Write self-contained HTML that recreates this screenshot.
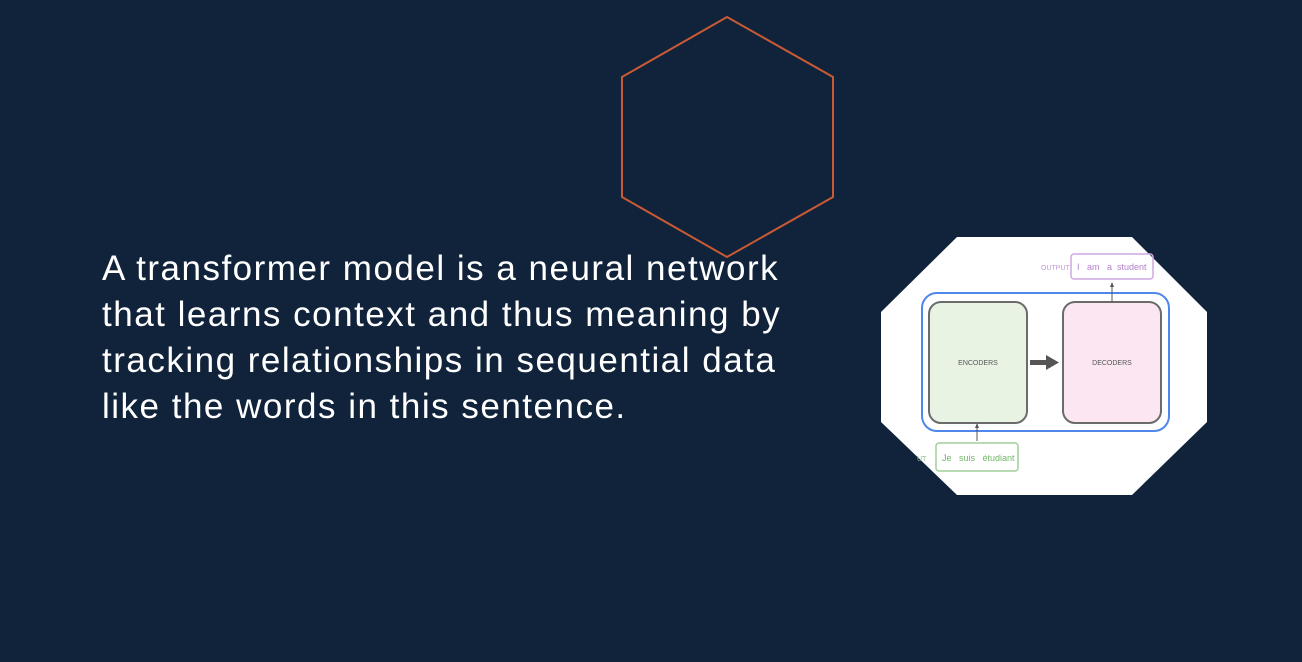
<!DOCTYPE html>
<html><head><meta charset="utf-8"><style>
html,body{margin:0;padding:0;}
body{width:1302px;height:662px;background:#10233b;position:relative;overflow:hidden;font-family:"Liberation Sans",sans-serif;}
.l{position:absolute;left:102px;color:#fff;font-size:35px;white-space:nowrap;line-height:1;letter-spacing:1.5px;}
</style></head><body>
<svg width="1302" height="662" style="position:absolute;left:0;top:0">
<polygon points="727,17 833,77 833,197 727,257 622,197 622,77" fill="none" stroke="#c85a35" stroke-width="2"/>
<polygon points="957,237 1132,237 1207,312 1207,422 1132,495 957,495 881,422 881,312" fill="#fff"/>
<rect x="922" y="293" width="247" height="138" rx="15" fill="none" stroke="#4f86ec" stroke-width="2"/>
<rect x="929" y="302" width="98" height="121" rx="12" fill="#e8f3e4" stroke="#6b6b6b" stroke-width="2"/>
<rect x="1063" y="302" width="98" height="121" rx="12" fill="#fbe6f1" stroke="#6b6b6b" stroke-width="2"/>
<text x="978" y="365" font-size="7" fill="#555" text-anchor="middle" font-family="Liberation Sans">ENCODERS</text>
<text x="1112" y="365" font-size="7" fill="#555" text-anchor="middle" font-family="Liberation Sans">DECODERS</text>
<rect x="1030" y="360" width="17" height="5" fill="#555"/>
<polygon points="1046,355 1059,362.5 1046,370" fill="#555"/>
<line x1="1112" y1="302" x2="1112" y2="286" stroke="#555" stroke-width="1"/>
<polygon points="1110,287 1114,287 1112,282" fill="#555"/>
<line x1="977" y1="441" x2="977" y2="427" stroke="#555" stroke-width="1"/>
<polygon points="975,428 979,428 977,423" fill="#555"/>
<rect x="1071" y="254" width="82" height="25" rx="3" fill="none" stroke="#cfa9df" stroke-width="1.5"/>
<text x="1041" y="270" font-size="7" fill="#c09ad6" font-family="Liberation Sans">OUTPUT</text>
<text x="1077" y="270" font-size="9" fill="#b57fd0" font-family="Liberation Sans" xml:space="preserve">I   am   a  student</text>
<rect x="936" y="443" width="82" height="28" rx="3" fill="none" stroke="#9fd19a" stroke-width="1.5"/>
<text x="917" y="461" font-size="7" fill="#8cbf86" font-family="Liberation Sans">UT</text>
<text x="942" y="461" font-size="9" fill="#6fb866" font-family="Liberation Sans" xml:space="preserve">Je   suis   étudiant</text>
</svg>
<div class="l" style="top:251px">A transformer model is a neural network</div>
<div class="l" style="top:297px">that learns context and thus meaning by</div>
<div class="l" style="top:343px">tracking relationships in sequential data</div>
<div class="l" style="top:389px">like the words in this sentence.</div>
</body></html>
